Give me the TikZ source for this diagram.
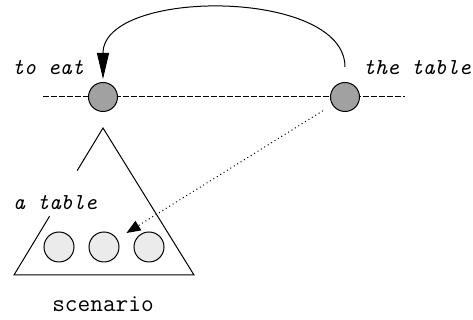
\documentclass[tikz,border=0pt]{standalone}
\usetikzlibrary{arrows.meta,calc}

\begin{document}
\begin{tikzpicture}[x=0.5pt,y=-0.5pt,line width=0.5pt,>={Triangle[length=7pt,width=5.5pt]},
  word/.style={circle,draw,fill=black!37,minimum size=14.5pt,inner sep=0pt},
  slot/.style={circle,draw,fill=black!8,minimum size=15pt,inner sep=0pt},
  lab/.style={font=\fontsize{11.4}{13}\ttfamily\itshape,inner sep=0pt,anchor=base}]
\useasboundingbox (0,0) rectangle (473,320);
\coordinate (lend) at (43,97);
\coordinate (rend) at (405,97);
\draw[dash pattern=on 3pt off 1pt] (lend) -- (rend);
\node[word] (te) at (103,97) {};
\node[word] (tt) at (345,97) {};
\node[lab] (lte) at (48,75) {to eat};
\node[lab] (ltt) at (417,75) {the table};
\draw[-{Triangle[length=13pt,width=6pt]}] ([yshift=7.5pt]tt.north) .. controls (345,-12) and (103,-12) .. ([yshift=1.5pt]te.north);
% scenario
\coordinate (apex) at (103,128);
\coordinate (bl) at (14,275);
\coordinate (br) at (194,275);
\draw ($(apex)!0.6!(bl)$) -- (bl) -- (br) -- (apex) -- ($(apex)!0.29!(bl)$);
\node[lab] (lat) at (55,210) {a table};
\node[slot] (s1) at (59,247) {};
\node[slot] (s2) at (104,247) {};
\node[slot] (s3) at (149,247) {};
\node[font=\fontsize{12.3}{14}\ttfamily,inner sep=0pt,anchor=base] (scn) at (103,312) {scenario};
\draw[->,dash pattern=on 0.5pt off 1.5pt,shorten <=5.5pt,shorten >=5.5pt] (tt) -- (s2);
\end{tikzpicture}
\end{document}
